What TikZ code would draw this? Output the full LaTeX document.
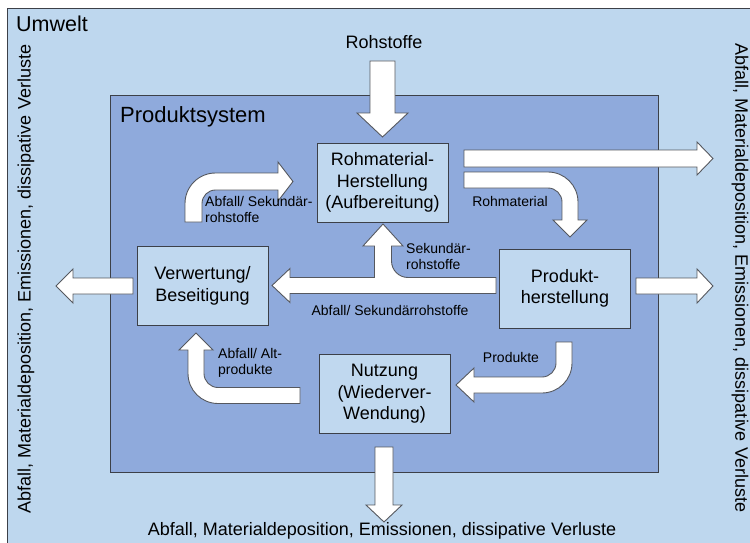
\documentclass[tikz,border=0pt]{standalone}
\usepackage{fontspec}
\setmainfont{Liberation Sans}
\usepackage{tikz}
\usetikzlibrary{positioning, calc}

\definecolor{umwelt}{RGB}{190,215,238}
\definecolor{system}{RGB}{143,170,220}
\definecolor{kasten}{RGB}{192,216,239}
\definecolor{rand}{RGB}{60,64,72}
\definecolor{pfeilrand}{RGB}{85,88,95}

\tikzset{
  prozess/.style={draw=rand, line width=1pt, fill=kasten, minimum width=131, minimum height=79,
    align=center, font=\fontsize{18}{21.5}\selectfont, inner sep=0pt},
  blockpfeil/.style={draw=pfeilrand, line width=0.9pt, fill=white},
  pfeiltext/.style={font=\fontsize{14}{16}\selectfont, inner sep=0pt},
  randtext/.style={font=\fontsize{18}{21}\selectfont, inner sep=0pt}
}

\begin{document}
\begin{tikzpicture}[x=1pt, y=-1pt]
    \useasboundingbox (0,0) rectangle (750,543);
    % Umwelt und Produktsystem
    \draw [fill=umwelt, draw=rand, line width=1pt] (7,9) rectangle (760,560);
    \node [anchor=west, font=\fontsize{21.5}{24}\selectfont, inner sep=0pt] (umwelt) at (16,24) {Umwelt};
    \draw [fill=system, draw=rand, line width=1pt] (110,96) rectangle (658,472);
    \node [anchor=west, font=\fontsize{22}{24}\selectfont, inner sep=0pt] (psys) at (120,117) {Produktsystem};

    % gerade Pfeile nach aussen
    \draw [blockpfeil] (370,61) -- (395,61) -- (395,113) -- (408,113) -- (382.5,137) -- (357,113) -- (370,113) -- cycle;
    \draw [blockpfeil] (464,150) -- (697,150) -- (697,142) -- (713,158.5) -- (697,175) -- (697,167) -- (464,167) -- cycle;
    \draw [blockpfeil] (636,278) -- (697,278) -- (697,269) -- (713,286) -- (697,303) -- (697,294) -- (636,294) -- cycle;
    \draw [blockpfeil] (133,278) -- (73,278) -- (73,269) -- (56,286) -- (73,303) -- (73,294) -- (133,294) -- cycle;
    \draw [blockpfeil] (375,447) -- (393,447) -- (393,505) -- (402,505) -- (384,522) -- (366,505) -- (375,505) -- cycle;

    % gebogene Pfeile im Kreislauf
    \draw [blockpfeil] (185,222) -- (185,203.5) arc[start angle=180, end angle=270, radius=30.5]
        -- (278,173) -- (278,162) -- (293,181.5) -- (278,201) -- (278,190) -- (215.5,190)
        arc[start angle=270, end angle=180, radius=13.5] -- (202,222) -- cycle;
    \draw [blockpfeil] (464,172) -- (548,172) arc[start angle=270, end angle=360, radius=30]
        -- (578,220) -- (587,220) -- (570,237) -- (553,220) -- (562,220) -- (562,202)
        arc[start angle=0, end angle=-90, radius=14] -- (464,188) -- cycle;
    \draw [blockpfeil] (556,342) -- (572,342) -- (572,363) arc[start angle=0, end angle=90, radius=30]
        -- (474,393) -- (474,402) -- (456,385) -- (474,368) -- (474,377) -- (542,377)
        arc[start angle=90, end angle=0, radius=14] -- cycle;
    \draw [blockpfeil] (300,387.5) -- (218,387.5) arc[start angle=90, end angle=180, radius=14]
        -- (204,350) -- (213,350) -- (196,333) -- (179,350) -- (188,350) -- (188,373.5)
        arc[start angle=180, end angle=90, radius=30] -- (300,403.5) -- cycle;
    \draw [blockpfeil] (496,277.5) -- (408,277.5) arc[start angle=90, end angle=180, radius=16.5]
        -- (391.5,246) -- (403,246) -- (383,224) -- (363,246) -- (374.5,246) -- (374.5,277.5)
        -- (290,277.5) -- (290,268.5) -- (272,285.5) -- (290,302.5) -- (290,293.5) -- (496,293.5) -- cycle;

    % Prozesse
    \node [prozess] (roh) at (382.5,182.5) {Rohmaterial-\\Herstellung\\(Aufbereitung)};
    \node [prozess] (prod) at (565,288.5) {Produkt-\\herstellung};
    \node [prozess] (nutz) at (384.5,394) {Nutzung\\(Wiederver-\\Wendung)};
    \node [prozess] (verw) at (202.5,286) {Verwertung/\\Beseitigung};

    % Beschriftungen
    \node [randtext] (rohstoffe) at (384,42) {Rohstoffe};
    \node [randtext] (aussen-unten) at (382,531) {Abfall, Materialdeposition, Emissionen, dissipative Verluste};
    \node [randtext, rotate=90] (aussen-links) at (26,279) {Abfall, Materialdeposition, Emissionen, dissipative Verluste};
    \node [randtext, rotate=-90] (aussen-rechts) at (740,278) {Abfall, Materialdeposition, Emissionen, dissipative Verluste};
    \node [pfeiltext, anchor=west, align=left] (sek1) at (205,209) {Abfall/ Sekundär-\\rohstoffe};
    \node [pfeiltext] (rohmat) at (510,201) {Rohmaterial};
    \node [pfeiltext, anchor=west, align=left] (sek2) at (406,256) {Sekundär-\\rohstoffe};
    \node [pfeiltext] (sek3) at (390,310) {Abfall/ Sekundärrohstoffe};
    \node [pfeiltext] (produkte) at (511,357) {Produkte};
    \node [pfeiltext, anchor=west, align=left] (altprod) at (218,363) {Abfall/ Alt-\\produkte};
\end{tikzpicture}
\end{document}
